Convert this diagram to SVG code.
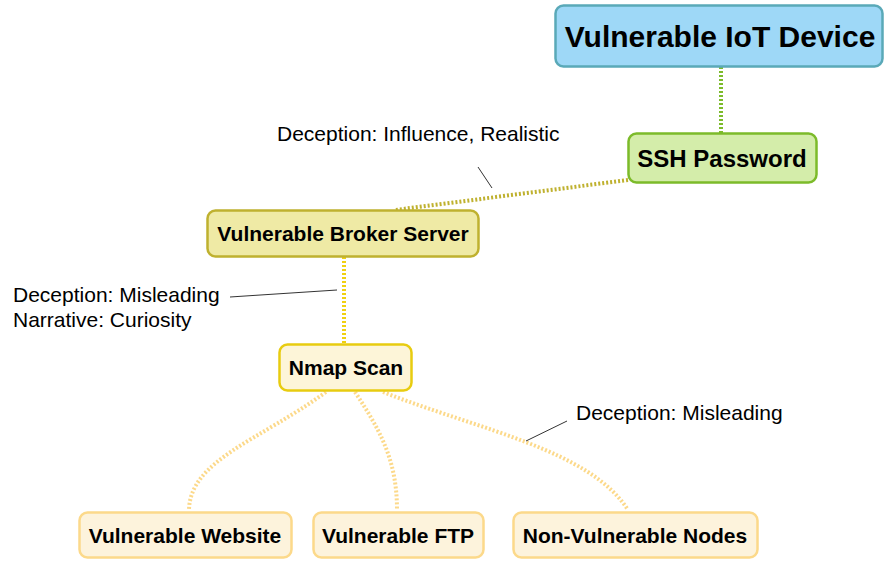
<svg xmlns="http://www.w3.org/2000/svg" width="885" height="561" viewBox="0 0 885 561">
<style>
.n{font-family:"Liberation Sans",Arial,sans-serif;font-weight:bold;fill:#000;text-anchor:middle}
.l{font-family:"Liberation Sans",Arial,sans-serif;font-size:21px;fill:#000}
.c{fill:none;stroke-width:4;stroke-dasharray:2 2}
.lead{stroke:#333;stroke-width:1;fill:none}
</style>
<rect width="885" height="561" fill="#fff"/>
<g id="connectors">
<path class="c" d="M721 67 V133" stroke="#7cbb2a"/>
<path class="c" d="M628 180 L395 210" stroke="#bfb12f"/>
<path class="c" d="M344 257 V344" stroke="#f0d010"/>
<path class="c" d="M326 392 C260 440 190 460 189 510" stroke="#fcd98a"/>
<path class="c" d="M355 392 C380 430 397 460 397 510" stroke="#fcd98a"/>
<path class="c" d="M383 392 C480 430 590 450 628 510" stroke="#fcd98a"/>
<path class="lead" d="M478 167 L492 188"/>
<path class="lead" d="M230 297 L337 290"/>
<path class="lead" d="M526 441 L567 421"/>
</g>
<g id="iot">
<rect x="555.5" y="5.5" width="327" height="61" rx="8" fill="#9ed8f7" stroke="#5aa9b8" stroke-width="2.5"/>
<text class="n" x="720" y="47" font-size="30">Vulnerable IoT Device</text>
</g>
<g id="ssh">
<rect x="628.5" y="133.5" width="188" height="49" rx="8" fill="#d4edaa" stroke="#7cbb2a" stroke-width="2.5"/>
<text class="n" x="722" y="166.5" font-size="24">SSH Password</text>
</g>
<g id="broker">
<rect x="207.5" y="210.5" width="271" height="46" rx="8" fill="#efeaa5" stroke="#bfb12f" stroke-width="2.5"/>
<text class="n" x="343" y="241" font-size="21">Vulnerable Broker Server</text>
</g>
<g id="nmap">
<rect x="279.5" y="344.5" width="132" height="46" rx="8" fill="#fdf5d8" stroke="#e8cc10" stroke-width="2.5"/>
<text class="n" x="346" y="375" font-size="21">Nmap Scan</text>
</g>
<g id="website">
<rect x="79.5" y="512.5" width="212" height="45" rx="8" fill="#fdf3dc" stroke="#fcd98a" stroke-width="2.5"/>
<text class="n" x="185" y="542.5" font-size="21">Vulnerable Website</text>
</g>
<g id="ftp">
<rect x="313.5" y="512.5" width="170" height="45" rx="8" fill="#fdf3dc" stroke="#fcd98a" stroke-width="2.5"/>
<text class="n" x="398" y="542.5" font-size="21">Vulnerable FTP</text>
</g>
<g id="nonvuln">
<rect x="513.5" y="512.5" width="244" height="45" rx="8" fill="#fdf3dc" stroke="#fcd98a" stroke-width="2.5"/>
<text class="n" x="635" y="542.5" font-size="21">Non-Vulnerable Nodes</text>
</g>
<g id="labels">
<text class="l" x="277" y="141">Deception: Influence, Realistic</text>
<text class="l" x="13" y="301.5">Deception: Misleading</text>
<text class="l" x="13" y="327">Narrative: Curiosity</text>
<text class="l" x="576" y="420">Deception: Misleading</text>
</g>
</svg>
